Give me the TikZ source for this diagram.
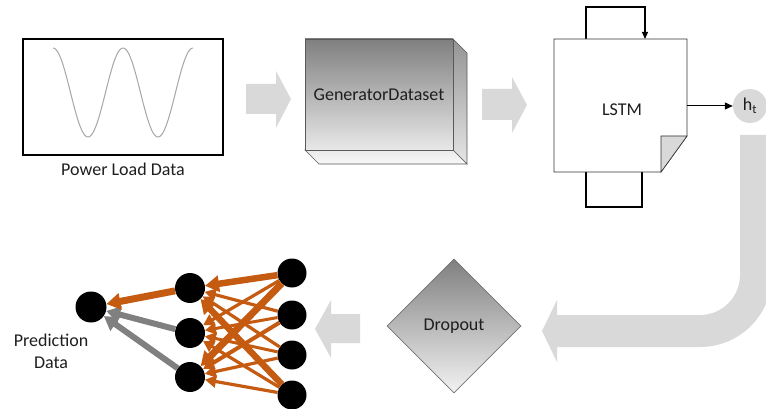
\documentclass[tikz,border=0pt]{standalone}
\usepackage{fontspec}
\setmainfont{Carlito}
\usetikzlibrary{shapes.geometric,arrows.meta}
\definecolor{arr}{HTML}{D9D9D9}
\definecolor{org}{HTML}{C55A11}
\definecolor{txt}{HTML}{1E1E1E}
\definecolor{wave}{HTML}{A6A6A6}
\definecolor{edgegray}{HTML}{808080}
\begin{document}
\begin{tikzpicture}[x=1pt,y=-1pt,
  every node/.style={font=\fontsize{18}{22}\selectfont, text=txt},
  blockarrow/.style={fill=arr, draw=none},
  neuron/.style={circle, fill=black, minimum size=29pt, inner sep=0},
  oedge/.style={draw=org, -{Triangle[length=11pt,width=12pt]}},
  bigtip/.style={-{Triangle[length=14pt,width=16pt]}},
  gedge/.style={draw=edgegray, line width=6pt, -{Triangle[length=14pt,width=16pt]}},
  loopline/.style={draw=black, line width=1.1pt},
]
\useasboundingbox (0,0) rectangle (766,409);

% ---------- Power load data ----------
\node[draw=black, line width=1.3pt, minimum width=200pt, minimum height=116pt, inner sep=0] (power) at (123,97) {};
\draw[wave, line width=1pt] plot[domain=53:193, samples=120, smooth] (\x, {92.5-44.5*cos(5.142857*(\x-53))});
\node (powerlbl) at (123,169) {Power Load Data};

% ---------- block arrows ----------
\fill[blockarrow] (246,84) -- (276,84) -- (276,71) -- (291,99) -- (276,128) -- (276,114) -- (246,114) -- cycle;
\fill[blockarrow] (482,89) -- (512,89) -- (512,77) -- (527,105) -- (512,133) -- (512,120) -- (482,120) -- cycle;
\fill[blockarrow] (360,314) -- (331,314) -- (331,300) -- (315,329) -- (331,358) -- (331,343) -- (360,343) -- cycle;

% ---------- GeneratorDataset box ----------
\shade[top color=black!42, bottom color=black!10, draw=black!65, line width=0.6pt]
  (453,39) -- (467,53) -- (467,164) -- (453,150) -- cycle;
\shade[top color=black!8, bottom color=black!3, draw=black!65, line width=0.6pt]
  (305,150) -- (453,150) -- (467,164) -- (319,164) -- cycle;
\node[top color=black!50, bottom color=black!9, draw=black!65, line width=0.6pt,
      minimum width=148pt, minimum height=111pt, inner sep=0] (gen) at (379,94.5) {GeneratorDataset};

% ---------- LSTM ----------
\draw[loopline, -{Triangle[length=7pt,width=6pt]}] (586,39) -- (586,7) -- (645,7) -- (645,39);
\draw[loopline] (586,172) -- (586,207) -- (642,207) -- (642,172);
\draw[fill=white, draw=black!80, line width=0.8pt] (554,39) -- (687,39) -- (687,136) -- (661,172) -- (554,172) -- cycle;
\draw[fill=arr, draw=black!80, line width=0.6pt] (661,172) -- (661,136) -- (687,136) -- cycle;
\node[inner sep=0, minimum width=133pt, minimum height=133pt] (lstm) at (620.5,105.5) {};
\node (lstmlbl) at (622,110) {LSTM};

% ---------- h_t ----------
\node[circle, fill=arr, minimum size=34pt, inner sep=0] (ht) at (750,106) {h\textsubscript{t}};
\draw[line width=1pt, -{Triangle[length=8pt,width=7pt]}] (687,106) -- (ht);

% ---------- big curved arrow ----------
\fill[blockarrow] (740,135) -- (740,275)
  .. controls (740,297.1) and (722.1,315) .. (700,315)
  -- (557,315) -- (557,300) -- (542,331) -- (557,362) -- (557,347) -- (700,347)
  .. controls (739.8,347) and (772,314.8) .. (772,275)
  -- (772,135) -- cycle;

% ---------- Dropout ----------
\node[diamond, aspect=1, minimum width=134pt, minimum height=134pt, inner sep=0,
      top color=black!50, bottom color=black!5, draw=black!55, line width=0.6pt] (drop) at (454,326) {Dropout};

% ---------- network ----------
\node[neuron, minimum size=31pt] (o) at (91,307) {};
\node[neuron, minimum size=30pt] (h1) at (190,288) {};
\node[neuron, minimum size=30pt] (h2) at (190,333) {};
\node[neuron, minimum size=30pt] (h3) at (190,377) {};
\node[neuron] (i1) at (292,273) {};
\node[neuron] (i2) at (292,315) {};
\node[neuron] (i3) at (292,355) {};
\node[neuron] (i4) at (292,395) {};

\draw[oedge, line width=3.2pt] (i1) -- (h2);
\draw[oedge, line width=3.2pt] (i2) -- (h1);
\draw[oedge, line width=3pt] (i2) -- (h2);
\draw[oedge, line width=4pt] (i2) -- (h3);
\draw[oedge, line width=3.2pt] (i3) -- (h1);
\draw[oedge, line width=3pt] (i3) -- (h2);
\draw[oedge, line width=3.2pt] (i3) -- (h3);
\draw[oedge, line width=3.2pt] (i4) -- (h2);
\draw[oedge, line width=3.2pt] (i4) -- (h3);
\draw[oedge, bigtip, line width=6.5pt] (i1) -- (h1);
\draw[oedge, bigtip, line width=7pt] (i1) -- (h3);
\draw[oedge, bigtip, line width=6.5pt] (i4) -- (h1);

\draw[gedge] (h2) -- (o);
\draw[gedge] (h3) -- (o);
\draw[gedge, draw=org, line width=7pt] (h1) -- (o);

\node[align=center] (pred) at (51,351) {Prediction\\Data};
\end{tikzpicture}
\end{document}
